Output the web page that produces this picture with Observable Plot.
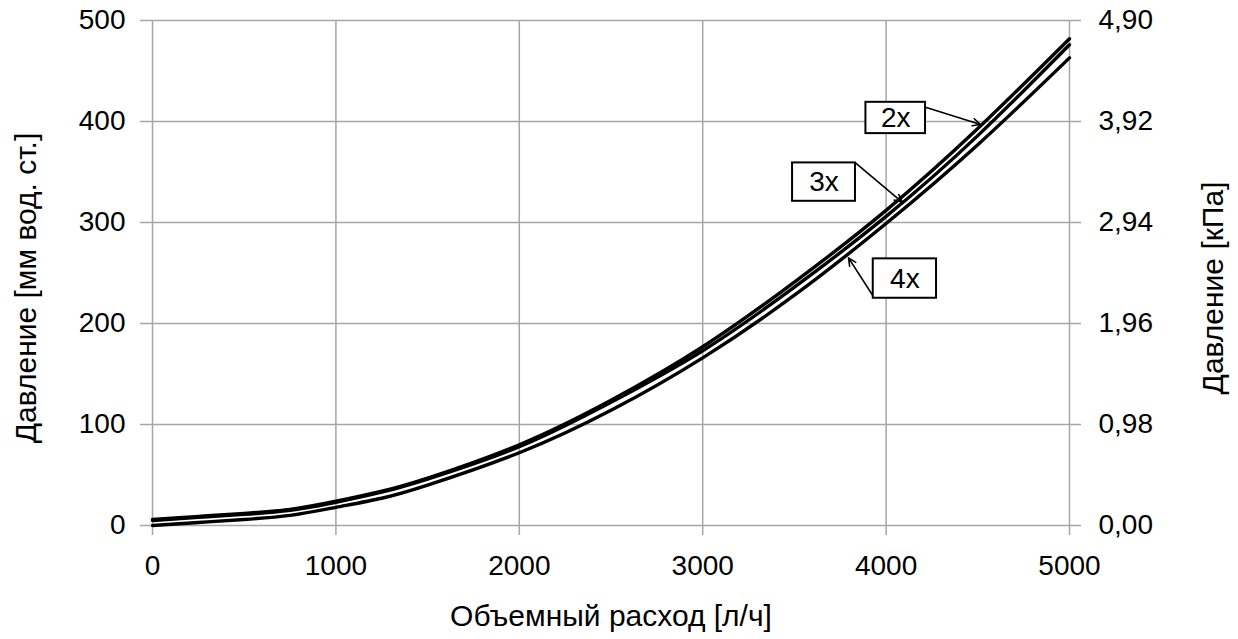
<!DOCTYPE html>
<html>
<head>
<meta charset="utf-8">
<script src="https://cdn.jsdelivr.net/npm/d3@7"></script>
<script src="https://cdn.jsdelivr.net/npm/@observablehq/plot@0.6"></script>
<style>
  html, body { margin: 0; padding: 0; background: #fff; }
  #chart svg { display: block; }
</style>
</head>
<body>
<div id="chart"></div>
<script>
// Flow rate [l/h]
const flow = [0, 250, 500, 750, 1000, 1250, 1500, 2000, 2500, 3000, 3500, 4000, 4500, 5000];
// Pressure [mm water column] for each valve configuration
const p2x = [6, 9, 12, 16, 24, 34, 47, 80, 124, 177, 241, 312, 393, 482];
const p3x = [5, 8, 11, 15, 23, 33, 46, 78, 122, 173, 236, 306, 386, 476];
const p4x = [0, 3, 6, 10, 18, 27, 40, 72, 114, 166, 228, 299, 377, 463];
const seriesNames = ["2x", "3x", "4x"];

const xTicks = [0, 1000, 2000, 3000, 4000, 5000];
const yTicks = [0, 100, 200, 300, 400, 500];
const rightTickLabels = ["0,00", "0,98", "1,96", "2,94", "3,92", "4,90"];

const xTitle = "Объемный расход [л/ч]";
const yTitleLeft = "Давление [мм вод. ст.]";
const yTitleRight = "Давление [кПа]";

// Callout annotations (data-space positions)
const annoLabel = ["2x", "3x", "4x"];
const annoBoxX1 = [3890, 3490, 3930];
const annoBoxX2 = [4215, 3833, 4275];
const annoBoxY1 = [388, 321, 225];
const annoBoxY2 = [419, 359, 264];
const annoFromX = [4215, 3833, 3930];
const annoFromY = [414, 359, 227];
const annoToX = [4515, 4089, 3795];
const annoToY = [397, 320, 265];

const rows = [];
[p2x, p3x, p4x].forEach((arr, i) => {
  flow.forEach((f, j) => rows.push({ flow: f, p: arr[j], s: seriesNames[i] }));
});
const annos = annoLabel.map((l, i) => ({
  label: l,
  bx1: annoBoxX1[i], bx2: annoBoxX2[i], by1: annoBoxY1[i], by2: annoBoxY2[i],
  cx: (annoBoxX1[i] + annoBoxX2[i]) / 2, cy: (annoBoxY1[i] + annoBoxY2[i]) / 2,
  fx: annoFromX[i], fy: annoFromY[i], tx: annoToX[i], ty: annoToY[i]
}));

const gridColor = "#a6a6a6";
const fs = 28;
const fsTitle = 30;

const chart = Plot.plot({
  width: 1238,
  height: 639,
  marginLeft: 152,
  marginRight: 169,
  marginTop: 20,
  marginBottom: 114,
  style: { fontFamily: "Liberation Sans, Arial, sans-serif", fontSize: fs + "px", color: "#000", background: "#fff" },
  x: { domain: [0, 5000] },
  y: { domain: [0, 500] },
  marks: [
    Plot.gridX(xTicks, { stroke: gridColor, strokeOpacity: 1, strokeWidth: 1.5 }),
    Plot.gridY(yTicks, { stroke: gridColor, strokeOpacity: 1, strokeWidth: 1.5 }),
    Plot.axisX({ ticks: xTicks, tickSize: 10, tickPadding: 20, tickFormat: (d) => String(d), stroke: gridColor, strokeWidth: 1.5, label: null, fill: "#000" }),
    Plot.axisY({ anchor: "left", ticks: yTicks, tickSize: 12, tickPadding: 15, tickFormat: (d) => String(d), stroke: gridColor, strokeWidth: 1.5, label: null, fill: "#000" }),
    Plot.axisY({ anchor: "right", ticks: yTicks, tickSize: 11, tickPadding: 18,
      tickFormat: (d) => rightTickLabels[yTicks.indexOf(d)], stroke: gridColor, strokeWidth: 1.5, label: null, fill: "#000" }),
    Plot.line(rows, { x: "flow", y: "p", z: "s", stroke: "#000", strokeWidth: 3.4, curve: "natural" }),
    Plot.arrow(annos, { x1: "fx", y1: "fy", x2: "tx", y2: "ty", stroke: "#000", strokeWidth: 1.6, headLength: 8, headAngle: 50 }),
    Plot.rect(annos, { x1: "bx1", x2: "bx2", y1: "by1", y2: "by2", fill: "#fff", stroke: "#000", strokeWidth: 2 }),
    Plot.text(annos, { x: "cx", y: "cy", text: "label", fontSize: fs, fill: "#000" }),
    Plot.text([xTitle], { frameAnchor: "bottom", textAnchor: "middle", dy: 100, fontSize: fsTitle, fill: "#000" }),
    Plot.text([yTitleLeft], { frameAnchor: "left", textAnchor: "middle", dx: -126, dy: 15, rotate: -90, fontSize: fsTitle, fill: "#000" }),
    Plot.text([yTitleRight], { frameAnchor: "right", textAnchor: "middle", dx: 144, dy: 15, rotate: -90, fontSize: fsTitle, fill: "#000" })
  ]
});
document.getElementById("chart").appendChild(chart);
</script>
</body>
</html>
